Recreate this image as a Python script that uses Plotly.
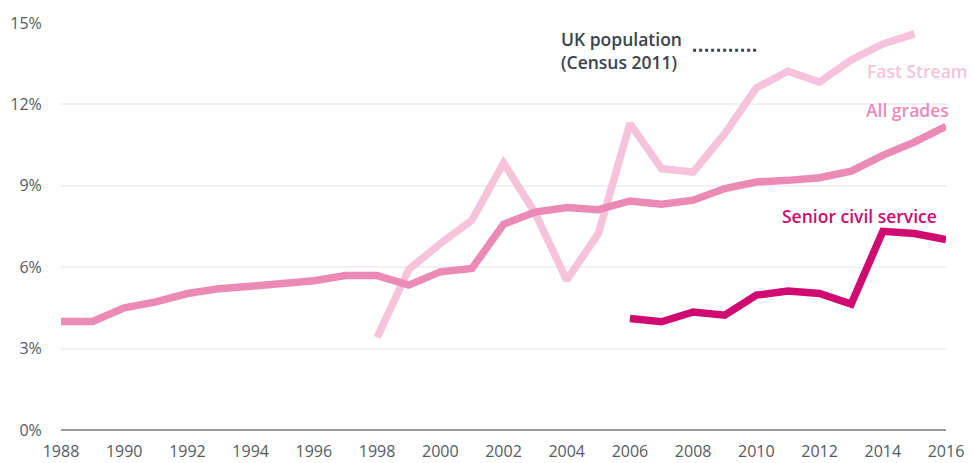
import plotly.graph_objects as go

years_all = list(range(1988, 2017))
all_grades = [4.0, 4.0, 4.5, 4.72, 5.03, 5.21, 5.3, 5.37, 5.5, 5.69, 5.69, 5.34, 5.83, 5.95,
              7.58, 8.03, 8.2, 8.12, 8.44, 8.32, 8.47, 8.9, 9.14, 9.2, 9.3, 9.54, 10.12, 10.61, 11.19]

years_fast = list(range(1998, 2016))
fast_stream = [3.41, 5.91, 6.87, 7.73, 9.84, 8.0, 5.52, 7.24, 11.29, 9.63, 9.51, 10.92,
               12.61, 13.22, 12.82, 13.64, 14.23, 14.6]

years_scs = list(range(2006, 2017))
senior_cs = [4.11, 3.99, 4.35, 4.23, 4.97, 5.12, 5.03, 4.64, 7.32, 7.24, 7.02]

census_years = [2008, 2010]
census_value = [14.0, 14.0]

y_ticks = [0, 3, 6, 9, 12, 15]
y_tick_labels = ["0%", "3%", "6%", "9%", "12%", "15%"]
x_ticks = list(range(1988, 2017, 2))

C_FAST = "#f6c3da"
C_ALL = "#ec8ab6"
C_SCS = "#cf0a70"
C_DARK = "#3a434d"
FONT = "Open Sans"

fig = go.Figure()
fig.add_trace(go.Scatter(x=years_fast, y=fast_stream, mode="lines",
                         line=dict(color=C_FAST, width=7.5), cliponaxis=False, hoverinfo="skip"))
fig.add_trace(go.Scatter(x=years_all, y=all_grades, mode="lines",
                         line=dict(color=C_ALL, width=7.5), cliponaxis=False, hoverinfo="skip"))
fig.add_trace(go.Scatter(x=years_scs, y=senior_cs, mode="lines",
                         line=dict(color=C_SCS, width=7.5), cliponaxis=False, hoverinfo="skip"))
fig.add_trace(go.Scatter(x=census_years, y=census_value, mode="lines",
                         line=dict(color=C_DARK, width=3, dash="3px,3px"), cliponaxis=False,
                         hoverinfo="skip"))

LBL = 17.5
fig.add_annotation(x=1.0275, y=13.22, xref="paper", yref="y", text="Fast Stream", showarrow=False,
                   xanchor="right", yanchor="middle",
                   font=dict(family=FONT, size=LBL, color=C_FAST, weight=600))
fig.add_annotation(x=1.0056, y=11.81, xref="paper", yref="y", text="All grades", showarrow=False,
                   xanchor="right", yanchor="middle",
                   font=dict(family=FONT, size=LBL, color=C_ALL, weight=600))
fig.add_annotation(x=0.992, y=7.89, xref="paper", yref="y", text="Senior civil service", showarrow=False,
                   xanchor="right", yanchor="middle",
                   font=dict(family=FONT, size=LBL, color=C_SCS, weight=600))
fig.add_annotation(x=2007.7, y=14.0, xref="x", yref="y", text="UK population<br>(Census 2011)",
                   showarrow=False, xanchor="right", yanchor="middle", align="left",
                   font=dict(family=FONT, size=LBL, color=C_DARK, weight=600))

fig.update_layout(
    width=973, height=463,
    margin=dict(l=61, r=27, t=23, b=33, autoexpand=False),
    paper_bgcolor="white", plot_bgcolor="white",
    showlegend=False,
    font=dict(family=FONT, size=16, color="#555b62"),
    xaxis=dict(range=[1988, 2016], tickvals=x_ticks, showgrid=False, zeroline=False,
               showline=False, ticks="outside", ticklen=7, tickcolor="rgba(0,0,0,0)",
               tickfont=dict(family=FONT, size=16, color="#555b62")),
    yaxis=dict(range=[0, 15], tickvals=y_ticks, ticktext=y_tick_labels, showgrid=True,
               gridcolor="#eef1f5", gridwidth=1.5, zeroline=True, zerolinecolor="#9a9a9a",
               zerolinewidth=2, showline=False, ticks="outside", ticklen=15,
               tickcolor="rgba(0,0,0,0)",
               tickfont=dict(family=FONT, size=16, color="#555b62")),
)

fig.write_html("out.html", config={"displayModeBar": False},
               post_script="document.body.style.margin='0';")
